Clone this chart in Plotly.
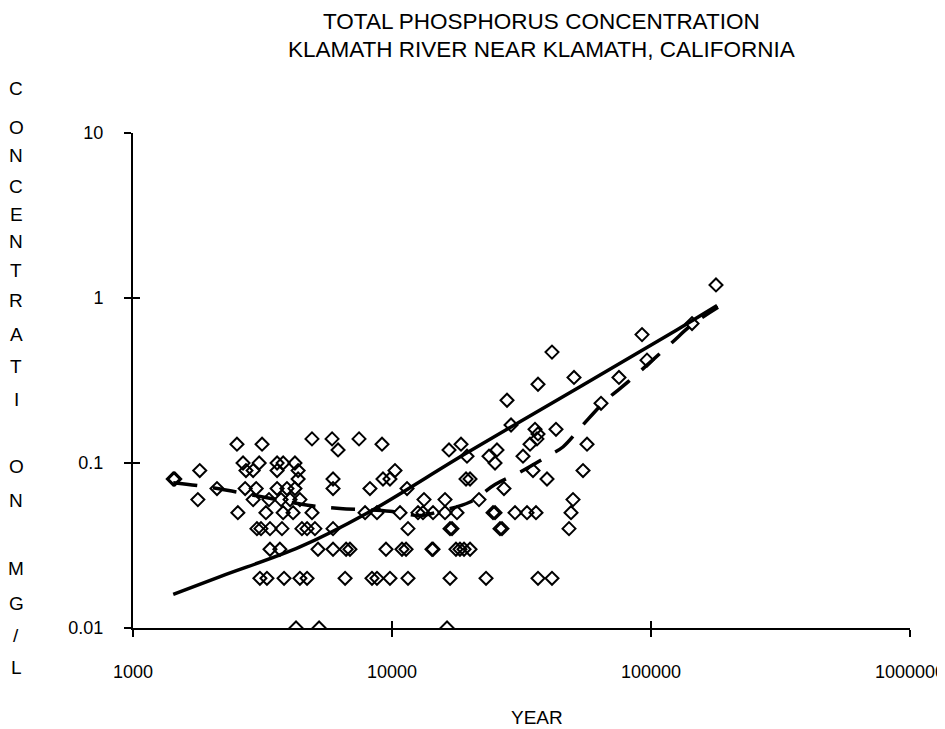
import plotly.graph_objects as go

# ---------------- data ----------------
sample_x = [
    # 0.01
    4260, 5230, 16310,
    # 0.02
    3090, 3290, 3830, 4410, 4700, 6590, 8370, 8750, 9820, 11530, 16750, 23070, 36620, 41470,
    # 0.03
    3380, 3690, 5180, 5920, 6650, 6880, 9480, 10930, 11330, 14270, 14400, 17660, 18300, 18970, 20010,
    # 0.04
    3010, 3120, 3380, 3760, 4490, 4700, 5040, 5920, 11530, 16750, 17050, 26120, 26590, 48250,
    # 0.05
    2540, 3260, 3800, 4150, 4910, 7870, 8750, 10740, 12600, 13170, 14400, 16020, 17820, 24550,
    24990, 29850, 33210, 35970, 49110,
    # 0.06
    1780, 2910, 3350, 3730, 4040, 4410, 13290, 16020, 21670, 49990,
    # 0.07
    2110, 2710, 2990, 3600, 3930, 4220, 5920, 8220, 11430, 27060,
    # 0.08
    1430, 1450, 4340, 5920, 9230, 9820, 19310, 20010, 39670,
    # 0.09
    1810, 2730, 2910, 3600, 4340, 10270, 35030, 54640,
    # 0.1
    2660, 3070, 3600, 3800, 4220, 24990,
    # 0.11
    19480, 23690, 32050,
    # 0.12
    6190, 16600, 25430,
    # 0.13
    2520, 3150, 9150, 18470, 34110, 56620,
    # 0.14
    4910, 5870, 7460, 36290,
    # higher values
    36620, 35660, 42970, 28810, 64120, 27800, 36620, 50430, 75220, 96510, 41470, 92330, 144000, 178200,
]
sample_conc = (
    [0.01] * 3 + [0.02] * 14 + [0.03] * 15 + [0.04] * 14 + [0.05] * 19 + [0.06] * 10
    + [0.07] * 10 + [0.08] * 9 + [0.09] * 8 + [0.10] * 6 + [0.11] * 3 + [0.12] * 3
    + [0.13] * 6 + [0.14] * 4
    + [0.15, 0.16, 0.16, 0.17, 0.23, 0.24, 0.30, 0.33, 0.33, 0.42, 0.47, 0.60, 0.70, 1.20]
)

fit_x = [1430, 2170, 4410, 8000, 19400, 53200, 125700, 180000]
fit_conc = [0.016, 0.0205, 0.031, 0.0496, 0.115, 0.29, 0.64, 0.90]

smooth_x = [1430, 1950, 2480, 4910, 6300, 9820, 12830, 15300, 20010, 24990, 31200,
            40700, 45700, 54200, 67000, 81500, 119400, 144000, 181500]
smooth_conc = [0.076, 0.0715, 0.067, 0.055, 0.053, 0.051, 0.048, 0.051, 0.058, 0.074, 0.088,
               0.112, 0.125, 0.168, 0.24, 0.31, 0.53, 0.69, 0.88]

x_ticks = [1000, 10000, 100000, 1000000]
x_tick_text = ["1000", "10000", "100000", "1000000"]
y_ticks = [0.01, 0.1, 1, 10]
y_tick_text = ["0.01", "0.1", "1", "10"]

title_lines = ["TOTAL PHOSPHORUS CONCENTRATION", "KLAMATH RIVER NEAR KLAMATH, CALIFORNIA"]
x_title = "YEAR"
y_title_letters = list("CONCENTRATION") + list("MG/L")

# ---------------- figure ----------------
FONT = "Liberation Sans, Arial, sans-serif"
OFF = 8                      # page body margin shifts the figure by 8 px
W, H = 945 - OFF, 729 - OFF
L, T = 133 - OFF, 133 - OFF
R = W - (910 - OFF)
B = H - (628 - OFF)
PW, PH = W - L - R, H - T - B

def px_to_paper_x(px):       # px = reference-picture pixel
    return (px - OFF - L) / PW

def px_to_paper_y(py):
    return (H - B - (py - OFF)) / PH

fig = go.Figure()
fig.add_trace(go.Scatter(
    x=sample_x, y=sample_conc, mode="markers",
    marker=dict(symbol="diamond-open", size=10, color="black", line=dict(color="black", width=2)),
    showlegend=False, hoverinfo="x+y"))
fig.add_trace(go.Scatter(
    x=fit_x, y=fit_conc, mode="lines", line=dict(color="black", width=3.5, shape="spline"),
    showlegend=False))
fig.add_trace(go.Scatter(
    x=smooth_x, y=smooth_conc, mode="lines",
    line=dict(color="black", width=3.5, dash="24px,16px", shape="spline"),
    showlegend=False))
# invisible trace to carry the inner-tick overlay axes
fig.add_trace(go.Scatter(x=[x_ticks[0]], y=[y_ticks[0]], xaxis="x2", yaxis="y2",
                         mode="markers", marker=dict(opacity=0), showlegend=False, hoverinfo="skip"))

TICKFONT = dict(family=FONT, size=18, color="black")
axis_common = dict(type="log", showgrid=False, zeroline=False, ticks="outside", ticklen=7,
                   tickwidth=2, tickcolor="black", color="black", tickfont=TICKFONT,
                   ticklabeloverflow="allow", automargin=False)
fig.update_layout(
    width=W, height=H, autosize=False,
    margin=dict(l=L, r=R, t=T, b=B, pad=0),
    paper_bgcolor="white", plot_bgcolor="white",
    font=dict(family=FONT, size=19, color="black"),
    xaxis=dict(range=[3, 6], tickvals=x_ticks, ticktext=x_tick_text, showline=True,
               linecolor="black", linewidth=2, ticklabelstandoff=19, **axis_common),
    yaxis=dict(range=[-2, 1], tickvals=y_ticks, ticktext=y_tick_text, showline=True,
               linecolor="black", linewidth=2, ticklabelstandoff=17, **axis_common),
    xaxis2=dict(type="log", range=[3, 6], tickvals=x_ticks, overlaying="x", anchor="y2",
                side="bottom", ticks="inside", ticklen=7, tickwidth=2, tickcolor="black",
                showticklabels=False, showline=False, showgrid=False, zeroline=False),
    yaxis2=dict(type="log", range=[-2, 1], tickvals=y_ticks, overlaying="y", anchor="x2",
                side="left", ticks="inside", ticklen=7, tickwidth=2, tickcolor="black",
                showticklabels=False, showline=False, showgrid=False, zeroline=False),
)

annotations = []
for text, py in zip(title_lines, [21, 49]):
    annotations.append(dict(text=text, x=px_to_paper_x(541), y=px_to_paper_y(py), xref="paper",
                            yref="paper", xanchor="center", yanchor="middle", showarrow=False,
                            font=dict(family=FONT, size=22.5, color="black")))
annotations.append(dict(text=x_title, x=px_to_paper_x(537), y=px_to_paper_y(717), xref="paper",
                        yref="paper", xanchor="center", yanchor="middle", showarrow=False,
                        font=dict(family=FONT, size=19, color="black")))
letter_py = [88, 128, 156, 186, 214, 241, 270, 300, 334, 366, 400, 466, 500, 568, 603, 635, 667]
for ch, py in zip(y_title_letters, letter_py):
    annotations.append(dict(text=ch, x=px_to_paper_x(16), y=px_to_paper_y(py), xref="paper",
                            yref="paper", xanchor="center", yanchor="middle", showarrow=False,
                            font=dict(family=FONT, size=19, color="black")))
fig.update_layout(annotations=annotations)

fig.write_html("out.html")
